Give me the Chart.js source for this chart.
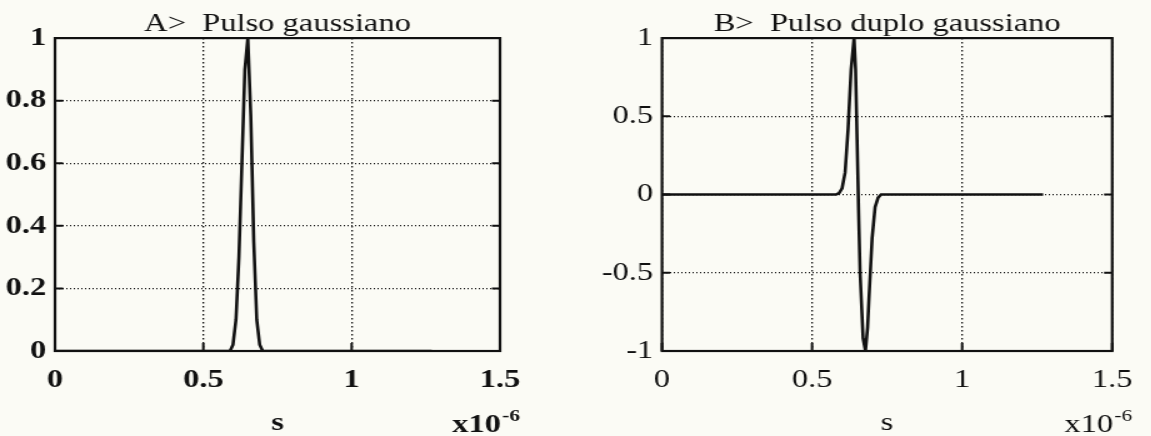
<!DOCTYPE html>
<html>
<head>
<meta charset="utf-8">
<script src="https://cdn.jsdelivr.net/npm/chart.js@4/dist/chart.umd.min.js"></script>
<style>
  body { margin: 0; background: #fbfbf5; width: 1151px; height: 436px; overflow: hidden; position: relative; }
  .wrap { position: absolute; top: 0; height: 436px; transform: scaleX(1.25); transform-origin: 0 0; }
</style>
</head>
<body>
<div class="wrap" style="left:0px;width:448px"><canvas id="chart-a" width="448" height="436"></canvas></div>
<div class="wrap" style="left:570px;width:464px"><canvas id="chart-b" width="464" height="436"></canvas></div>
<script>
// time axis in units of 1e-6 s
var xTicks = [0, 0.5, 1, 1.5];
var yTicksA = [0, 0.2, 0.4, 0.6, 0.8, 1];
var yTicksB = [-1, -0.5, 0, 0.5, 1];

// A> single gaussian pulse
var timeA = [0, 0.59, 0.6, 0.61, 0.62, 0.63, 0.64, 0.65, 0.66, 0.67, 0.68, 0.69, 0.7, 1.27];
var pulseA = [0, 0, 0.02, 0.1, 0.3, 0.6, 0.9, 1.0, 0.75, 0.35, 0.1, 0.02, 0, 0];

// B> double gaussian pulse
var timeB = [0, 0.58, 0.59, 0.6, 0.61, 0.62, 0.63, 0.64, 0.645, 0.65, 0.655, 0.66, 0.67, 0.678, 0.685, 0.69, 0.7, 0.71, 0.72, 0.73, 1.27];
var pulseB = [0, 0, 0.01, 0.04, 0.14, 0.42, 0.8, 1.0, 0.8, 0.35, -0.1, -0.5, -0.92, -1.0, -0.85, -0.65, -0.28, -0.08, -0.02, 0, 0];

var INK = "#111";
var SERIF = "'Liberation Serif', 'Times New Roman', serif";

// box around the plot, inward tick marks and the x10^-6 multiplier
var framePlugin = {
  id: "frame",
  afterDraw: function (chart, args, opts) {
    var ctx = chart.ctx;
    var a = chart.chartArea;
    var sx = chart.scales.x;
    var sy = chart.scales.y;
    ctx.save();
    ctx.strokeStyle = INK;
    ctx.lineWidth = 2.2;
    ctx.strokeRect(a.left, a.top, a.right - a.left, a.bottom - a.top);

    ctx.lineWidth = 2;
    ctx.beginPath();
    sy.ticks.forEach(function (t) {
      var y = sy.getPixelForValue(t.value);
      ctx.moveTo(a.left, y);
      ctx.lineTo(a.left + 6.5, y);
      ctx.moveTo(a.right, y);
      ctx.lineTo(a.right - 6.5, y);
    });
    sx.ticks.forEach(function (t) {
      var x = sx.getPixelForValue(t.value);
      ctx.moveTo(x, a.bottom);
      ctx.lineTo(x, a.bottom - 8);
    });
    ctx.stroke();

    ctx.fillStyle = INK;
    ctx.textAlign = "right";
    ctx.textBaseline = "alphabetic";
    var right = a.right + 16;
    ctx.font = opts.weight + " 17px " + SERIF;
    ctx.fillText("-6", right, 421);
    var w = ctx.measureText("-6").width;
    ctx.font = opts.weight + " 26px " + SERIF;
    ctx.fillText("x10", right - w - 1, 432);
    ctx.restore();
  }
};

function makeChart(id, title, times, values, yTicks, yMin, leftWidth, padRight, weight) {
  var ctx = document.getElementById(id).getContext("2d");
  var points = times.map(function (t, i) {
    return { x: t, y: values[i] };
  });
  var tickFont = { family: SERIF, size: 26, weight: weight };

  return new Chart(ctx, {
    type: "line",
    data: {
      datasets: [
        {
          data: points,
          borderColor: INK,
          borderWidth: 2.6,
          pointRadius: 0,
          tension: 0,
          fill: false,
        },
      ],
    },
    options: {
      responsive: false,
      animation: false,
      devicePixelRatio: 1,
      layout: { padding: { top: 0, right: padRight, bottom: 0, left: 0 } },
      plugins: {
        legend: { display: false },
        tooltip: { enabled: false },
        title: {
          display: true,
          text: title,
          fullSize: false,
          color: INK,
          font: { family: SERIF, size: 26, weight: "normal", lineHeight: 1.1 },
          padding: { top: 9.5, bottom: 0 },
        },
        frame: { weight: weight },
      },
      scales: {
        x: {
          type: "linear",
          min: 0,
          max: 1.5,
          afterBuildTicks: function (scale) {
            scale.ticks = xTicks.map(function (v) { return { value: v }; });
          },
          afterFit: function (scale) {
            scale.height = 85;
          },
          ticks: {
            color: INK,
            font: tickFont,
            padding: 14,
            maxRotation: 0,
            callback: function (v) { return String(v); },
          },
          grid: { color: INK, lineWidth: 1.3, drawTicks: false },
          border: { display: false, dash: [1.5, 2.5] },
          title: {
            display: true,
            text: "s",
            color: INK,
            font: { family: SERIF, size: 26, weight: weight, lineHeight: 1 },
            padding: { top: 0, bottom: 0 },
          },
        },
        y: {
          min: yMin,
          max: 1,
          afterBuildTicks: function (scale) {
            scale.ticks = yTicks.map(function (v) { return { value: v }; });
          },
          afterFit: function (scale) {
            scale.width = leftWidth;
          },
          ticks: {
            color: INK,
            font: tickFont,
            padding: 7,
            callback: function (v) { return String(v); },
          },
          grid: { color: INK, lineWidth: 1.3, drawTicks: false },
          border: { display: false, dash: [1, 2] },
        },
      },
    },
    plugins: [framePlugin],
  });
}

makeChart("chart-a", "A>  Pulso gaussiano", timeA, pulseA, yTicksA, 0, 44, 48, "bold");
makeChart("chart-b", "B>  Pulso duplo gaussiano", timeB, pulseB, yTicksB, -1, 73.6, 28.8, "normal");
</script>
</body>
</html>
